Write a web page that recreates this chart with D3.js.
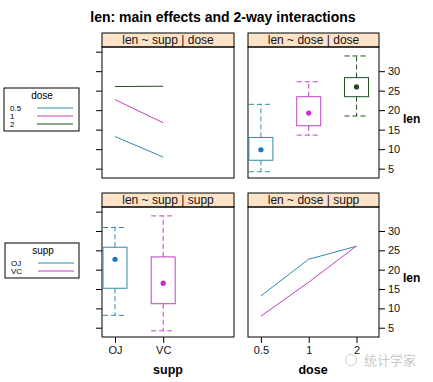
<!DOCTYPE html>
<html><head><meta charset="utf-8">
<script src="https://cdn.jsdelivr.net/npm/d3@7"></script>
<style>body{margin:0;background:#fff}svg{display:block;font-family:"Liberation Sans",Arial,sans-serif}</style>
</head><body><svg id="c" width="433" height="382"></svg>
<script>
// ---- data ----
const suppLevels = ["OJ", "VC"];
const doseLevels = ["0.5", "1", "2"];
const meanOJ = [13.23, 22.70, 26.06];   // mean len by dose, supp = OJ
const meanVC = [7.98, 16.77, 26.14];    // mean len by dose, supp = VC
// five-number summaries [min, lower hinge, median, upper hinge, max]
const boxDose05 = [4.2, 7.15, 9.85, 13.0, 21.5];
const boxDose1  = [13.6, 16.0, 19.25, 23.45, 27.3];
const boxDose2  = [18.5, 23.45, 25.95, 28.35, 33.9];
const boxOJ = [8.2, 15.2, 22.7, 25.8, 30.9];
const boxVC = [4.2, 11.2, 16.5, 23.3, 33.9];
const yTicksLabelled = [5, 10, 15, 20, 25, 30];
const yTicksLeft = [5, 10, 15, 20, 25, 30, 35];

// ---- styles ----
const colLine = ["#2f8aa6", "#c23fc2", "#1f4f1f"];
const colDot = ["#1c74c6", "#cc2acc", "#1f4f1f"];
const stripFill = "#fde3c8";

const svg = d3.select("#c");

svg.append("text").attr("x", 223).attr("y", 22).attr("text-anchor", "middle")
  .attr("font-size", 14).attr("font-weight", "bold").text("len: main effects and 2-way interactions");

const cols = [{x0: 102, x1: 234}, {x0: 248, x1: 379}];
const rows = [{s0: 33, y0: 47, y1: 178}, {s0: 193, y0: 207, y1: 337}];
const strips = [["len ~ supp | dose", "len ~ dose | dose"], ["len ~ supp | supp", "len ~ dose | supp"]];

function xs(c) { return d3.scaleLinear().domain([0.73, 3.47]).range([cols[c].x0, cols[c].x1]); }
function ys(r) { return d3.scaleLinear().domain([2.6, 36.2]).range([rows[r].y1, rows[r].y0]); }

for (let r = 0; r < 2; r++) {
  for (let c = 0; c < 2; c++) {
    const C = cols[c], R = rows[r];
    const g = svg.append("g");
    g.append("rect").attr("x", C.x0).attr("y", R.s0).attr("width", C.x1 - C.x0).attr("height", R.y0 - R.s0)
      .attr("fill", stripFill).attr("stroke", "#000").attr("stroke-width", 1);
    g.append("text").attr("x", (C.x0 + C.x1) / 2).attr("y", R.y0 - 3).attr("text-anchor", "middle")
      .attr("font-size", 12).attr("fill", "#111").text(strips[r][c]);
    g.append("rect").attr("x", C.x0).attr("y", R.y0).attr("width", C.x1 - C.x0).attr("height", R.y1 - R.y0)
      .attr("fill", "none").attr("stroke", "#000").attr("stroke-width", 1);
    const y = ys(r);
    if (c === 0) {
      const ax = d3.axisLeft(y).tickValues(yTicksLeft).tickFormat("").tickSizeOuter(0).tickSize(6);
      const a = g.append("g").attr("transform", `translate(${C.x0},0)`).call(ax);
      a.select(".domain").remove();
    } else {
      const ax = d3.axisRight(y).tickValues(yTicksLabelled).tickSizeOuter(0).tickSize(6).tickPadding(3);
      const a = g.append("g").attr("transform", `translate(${C.x1},0)`).call(ax);
      a.select(".domain").remove();
      a.selectAll("text").attr("font-size", 11).attr("fill", "#111").attr("font-family", "Liberation Sans, Arial");
      g.append("text").attr("x", 403).attr("y", (R.y0 + R.y1) / 2 + 10).attr("font-size", 12)
        .attr("font-weight", "bold").text("len");
    }
  }
}

// top-left: interaction lines len ~ supp for each dose
{
  const x = xs(0), y = ys(0);
  const line = d3.line().x((d, i) => x(i + 1)).y(d => y(d));
  doseLevels.forEach((d, i) => {
    svg.append("path").datum([meanOJ[i], meanVC[i]]).attr("d", line)
      .attr("fill", "none").attr("stroke", colLine[i]).attr("stroke-width", 1);
  });
}
// bottom-right: interaction lines len ~ dose for each supp
{
  const x = xs(1), y = ys(1);
  const line = d3.line().x((d, i) => x(i + 1)).y(d => y(d));
  [meanOJ, meanVC].forEach((s, i) => {
    svg.append("path").datum(s).attr("d", line)
      .attr("fill", "none").attr("stroke", colLine[i]).attr("stroke-width", 1);
  });
}

function box(x, y, pos, st, ci) {
  const cx = x(pos), hw = 12;
  const g = svg.append("g").attr("stroke", colLine[ci]).attr("fill", "none").attr("stroke-width", 1);
  g.append("rect").attr("x", cx - hw).attr("y", y(st[3])).attr("width", 2 * hw).attr("height", y(st[1]) - y(st[3]));
  g.append("line").attr("x1", cx).attr("x2", cx).attr("y1", y(st[3])).attr("y2", y(st[4])).attr("stroke-dasharray", "5,3");
  g.append("line").attr("x1", cx).attr("x2", cx).attr("y1", y(st[1])).attr("y2", y(st[0])).attr("stroke-dasharray", "5,3");
  g.append("line").attr("x1", cx - hw).attr("x2", cx + hw).attr("y1", y(st[4])).attr("y2", y(st[4])).attr("stroke-dasharray", "5,3");
  g.append("line").attr("x1", cx - hw).attr("x2", cx + hw).attr("y1", y(st[0])).attr("y2", y(st[0])).attr("stroke-dasharray", "5,3");
  svg.append("circle").attr("cx", cx).attr("cy", y(st[2])).attr("r", 2.6).attr("fill", colDot[ci]);
}
// top-right: boxes by dose
[boxDose05, boxDose1, boxDose2].forEach((st, i) => box(xs(1), ys(0), i + 1, st, i));
// bottom-left: boxes by supp
[boxOJ, boxVC].forEach((st, i) => box(xs(0), ys(1), i + 1, st, i));

// bottom x axes
{
  const a1 = svg.append("g").attr("transform", `translate(0,${rows[1].y1})`)
    .call(d3.axisBottom(xs(0)).tickValues([1, 2]).tickFormat((d) => suppLevels[d - 1]).tickSize(6).tickSizeOuter(0));
  a1.select(".domain").remove();
  a1.selectAll("text").attr("font-size", 11).attr("fill", "#111").attr("font-family", "Liberation Sans, Arial");
  const a2 = svg.append("g").attr("transform", `translate(0,${rows[1].y1})`)
    .call(d3.axisBottom(xs(1)).tickValues([1, 2, 3]).tickFormat((d) => doseLevels[d - 1]).tickSize(6).tickSizeOuter(0));
  a2.select(".domain").remove();
  a2.selectAll("text").attr("font-size", 11).attr("fill", "#111").attr("font-family", "Liberation Sans, Arial");
  svg.append("text").attr("x", 168).attr("y", 374).attr("text-anchor", "middle").attr("font-size", 12.5)
    .attr("font-weight", "bold").text("supp");
  svg.append("text").attr("x", 313).attr("y", 374).attr("text-anchor", "middle").attr("font-size", 12.5)
    .attr("font-weight", "bold").text("dose");
}

// legends
function legend(x0, y0, w, h, title, labels, cols) {
  const g = svg.append("g");
  g.append("rect").attr("x", x0).attr("y", y0).attr("width", w).attr("height", h)
    .attr("fill", "#fff").attr("stroke", "#000").attr("stroke-width", 1);
  g.append("text").attr("x", x0 + 38).attr("y", y0 + 11).attr("text-anchor", "middle")
    .attr("font-size", 10).text(title);
  labels.forEach((l, i) => {
    const yy = y0 + 20 + i * 8;
    g.append("text").attr("x", x0 + 6).attr("y", yy + 3).attr("font-size", 8).text(l);
    g.append("line").attr("x1", x0 + 33).attr("x2", x0 + 69).attr("y1", yy).attr("y2", yy)
      .attr("stroke", cols[i]).attr("stroke-width", 1);
  });
}
legend(4, 88, 75, 43, "dose", doseLevels, colLine);
legend(5, 243, 74, 35, "supp", suppLevels, colLine);

// watermark
svg.append("text").attr("x", 364).attr("y", 365).attr("font-size", 13).attr("fill", "#c8c8c8")
  .attr("font-family", "Noto Sans CJK SC").text("统计学家");
svg.append("circle").attr("cx", 351).attr("cy", 360).attr("r", 5.5).attr("fill", "none").attr("stroke", "#d0d0d0");
</script></body></html>
